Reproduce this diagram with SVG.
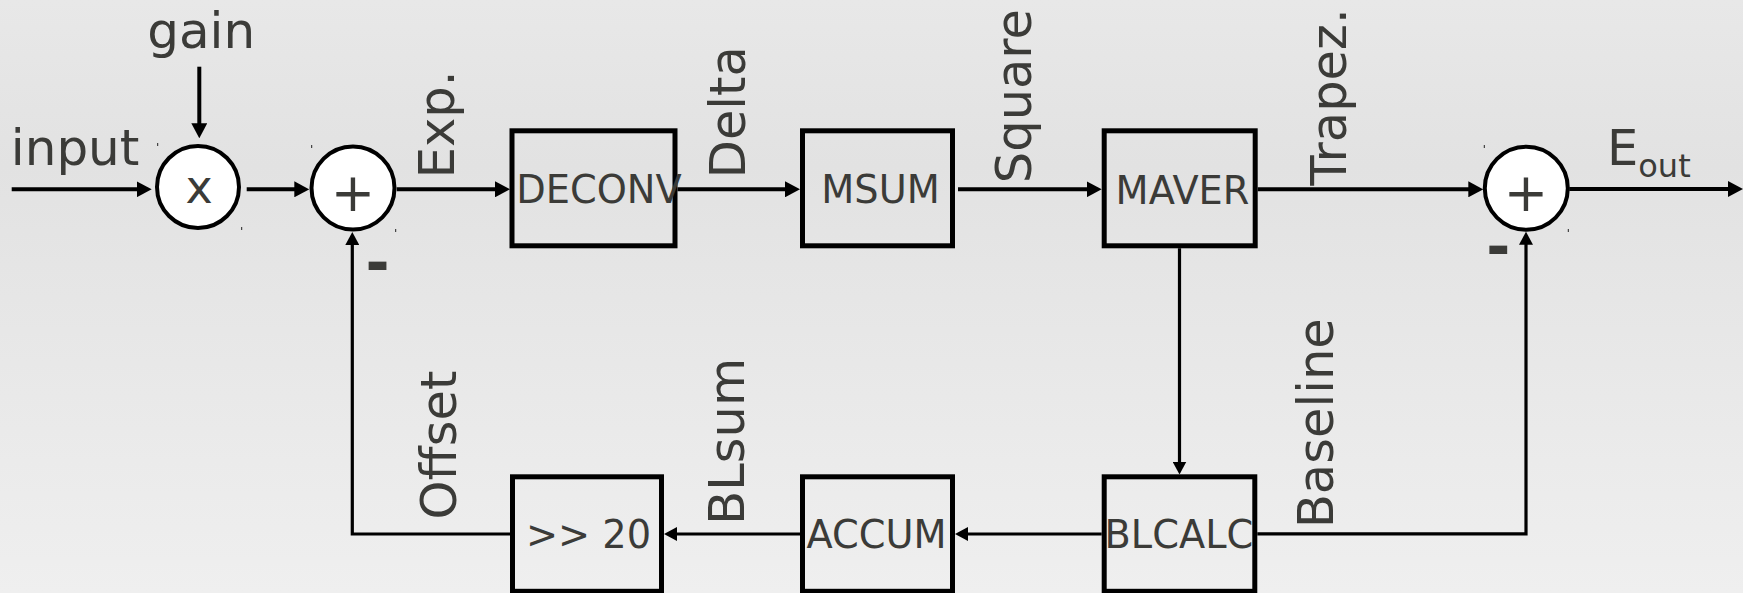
<svg xmlns="http://www.w3.org/2000/svg" width="1743" height="593" viewBox="0 0 1743 593">
  <defs>
    <linearGradient id="bg" x1="0" y1="0" x2="0" y2="1">
      <stop offset="0" stop-color="#e8e8e8"/>
      <stop offset="0.28" stop-color="#e2e2e2"/>
      <stop offset="1" stop-color="#efefef"/>
    </linearGradient>
    <marker id="arr" markerUnits="userSpaceOnUse" viewBox="0 0 15 16" markerWidth="15" markerHeight="16" refX="3" refY="8" orient="auto">
      <path d="M0,0 L15,8 L0,16 z" fill="#000"/>
    </marker>
    <marker id="arrs" markerUnits="userSpaceOnUse" viewBox="0 0 13 14" markerWidth="13" markerHeight="14" refX="3" refY="7" orient="auto">
      <path d="M0,0 L13,7 L0,14 z" fill="#000"/>
    </marker>
  </defs>
  <style>
    .box { fill: none; stroke: #000; stroke-width: 5; }
    .circ { fill: #fff; stroke: #000; stroke-width: 4; }
    .tick { stroke: #222; stroke-width: 1; }
    .t { font-family: "DejaVu Sans", "Liberation Sans", sans-serif; fill: #3b3b38; }
    .lbl { font-size: 49.5px; }
    .hl { font-size: 50px; }
    .blk { font-size: 38.3px; }
    .sym { font-size: 53px; text-anchor: middle; }
    .minus { font-size: 58px; font-weight: bold; text-anchor: middle; }
    .c { fill: none; stroke: #000; stroke-width: 4; marker-end: url(#arr); }
    .cs { fill: none; stroke: #000; stroke-width: 3.2; marker-end: url(#arrs); }
  </style>
  <rect x="0" y="0" width="1743" height="593" fill="url(#bg)"/>

  <g id="connectors">
    <path class="c" d="M11.7,189.3 H139.7"/>
    <path class="c" d="M199.3,66.7 V126.3"/>
    <path class="c" d="M246.7,189.3 H297.3"/>
    <path class="c" d="M396.7,189.3 H498"/>
    <path class="c" d="M677.5,189.3 H788"/>
    <path class="c" d="M958,189.3 H1089.7"/>
    <path class="c" d="M1257.7,189.3 H1471.3"/>
    <path class="c" d="M1569.3,189 H1731"/>
    <path class="cs" d="M1179.5,248.3 V464.5"/>
    <path class="cs" d="M1257.3,533.8 H1526 V241.7"/>
    <path class="cs" d="M1101.7,534 H965"/>
    <path class="cs" d="M800,534 H674"/>
    <path class="cs" d="M510,534 H352.3 V242"/>
  </g>

  <g id="label-input"><text class="t hl" x="10.8" y="165">input</text></g>
  <g id="label-gain"><text class="t hl" x="147.2" y="48.3">gain</text></g>
  <g id="label-exp"><text class="t lbl" transform="translate(454,178.2) rotate(-90)">Exp.</text></g>
  <g id="label-delta"><text class="t lbl" transform="translate(745,178.2) rotate(-90)">Delta</text></g>
  <g id="label-square"><text class="t lbl" transform="translate(1030.5,183.2) rotate(-90)">Square</text></g>
  <g id="label-trapez"><text class="t lbl" transform="translate(1346,185.5) rotate(-90)">Trapez.</text></g>
  <g id="label-offset"><text class="t lbl" transform="translate(455.5,519.4) rotate(-90)">Offset</text></g>
  <g id="label-blsum"><text class="t lbl" transform="translate(744,524.8) rotate(-90)">BLsum</text></g>
  <g id="label-baseline"><text class="t lbl" transform="translate(1333,528.1) rotate(-90)">Baseline</text></g>
  <g id="label-eout"><text class="t lbl" x="1607" y="165">E<tspan font-size="32" y="177">out</tspan></text></g>

  <g id="mult">
    <circle class="circ" cx="198" cy="187" r="41"/>
    <line class="tick" x1="157.7" y1="143" x2="157.7" y2="146"/>
    <line class="tick" x1="241.7" y1="227" x2="241.7" y2="230"/>
    <text class="t" x="199" y="203" font-size="46" text-anchor="middle">x</text>
  </g>
  <g id="adder1">
    <circle class="circ" cx="353" cy="188" r="41.5"/>
    <line class="tick" x1="311.7" y1="145" x2="311.7" y2="148"/>
    <line class="tick" x1="395.7" y1="229" x2="395.7" y2="232"/>
    <text class="t sym" x="353" y="211">+</text>
    <text class="t minus" x="377.5" y="283">-</text>
  </g>
  <g id="adder2">
    <circle class="circ" cx="1526.3" cy="188.3" r="41.5"/>
    <line class="tick" x1="1484.3" y1="145" x2="1484.3" y2="148"/>
    <line class="tick" x1="1568.3" y1="229" x2="1568.3" y2="232"/>
    <text class="t sym" x="1526" y="210.5">+</text>
    <text class="t minus" x="1498.3" y="267">-</text>
  </g>

  <g id="deconv">
    <rect class="box" x="512" y="130.8" width="163" height="115"/>
    <text class="t blk" x="516.3" y="203.3">DECONV</text>
  </g>
  <g id="msum">
    <rect class="box" x="802.5" y="130.8" width="150" height="115"/>
    <text class="t blk" x="821.3" y="203.3">MSUM</text>
  </g>
  <g id="maver">
    <rect class="box" x="1104.2" y="130.8" width="151" height="115"/>
    <text class="t blk" x="1115.6" y="204">MAVER</text>
  </g>
  <g id="shift">
    <rect class="box" x="512.5" y="476.8" width="149" height="114.5"/>
    <text class="t blk" x="526" y="547.7">&gt;&gt; 20</text>
  </g>
  <g id="accum">
    <rect class="box" x="802.5" y="476.8" width="150" height="114.5"/>
    <text class="t blk" x="806.5" y="547.7">ACCUM</text>
  </g>
  <g id="blcalc">
    <rect class="box" x="1104.2" y="476.8" width="150.6" height="114.5"/>
    <text class="t blk" x="1104.6" y="547.7">BLCALC</text>
  </g>
</svg>
